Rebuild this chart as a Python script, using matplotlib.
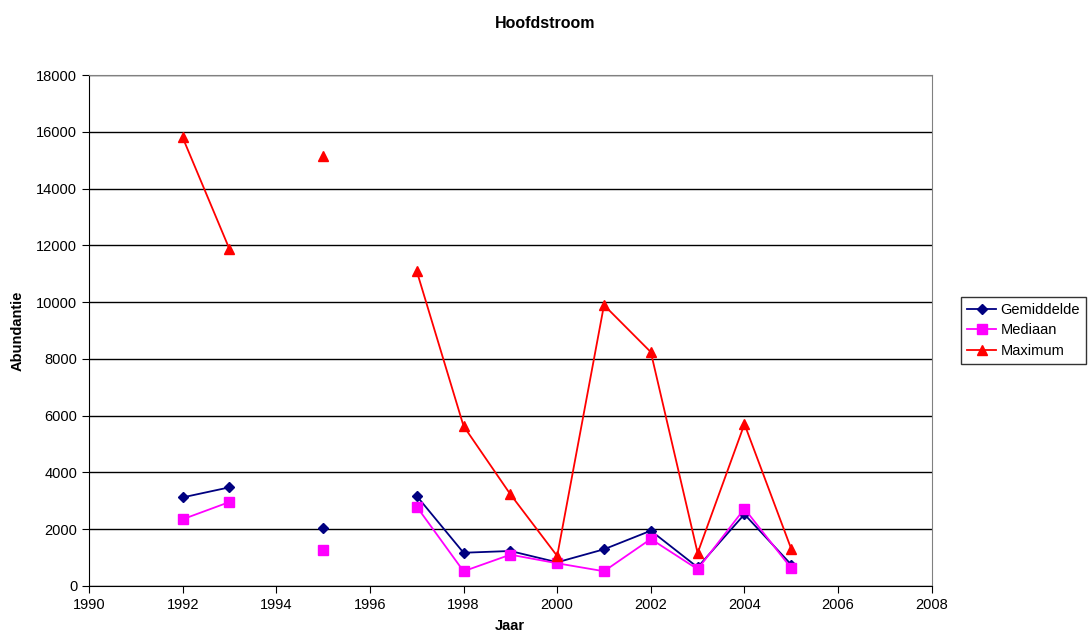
import matplotlib.pyplot as plt
import numpy as np

plt.rcParams["font.family"] = ["Liberation Sans", "DejaVu Sans"]

years = [1992, 1993, 1994, 1995, 1996, 1997, 1998, 1999, 2000, 2001, 2002, 2003, 2004, 2005]
nan = np.nan
gemiddelde = [3120, 3475, nan, 2050, nan, 3169, 1170, 1232, 834, 1292, 1947, 658, 2525, 750]
mediaan = [2350, 2958, nan, 1268, nan, 2793, 518, 1103, 799, 518, 1655, 590, 2722, 623]
maximum = [15800, 11866, nan, 15141, nan, 11092, 5634, 3229, 1056, 9894, 8239, 1160, 5704, 1303]

fig = plt.figure(figsize=(10.91, 6.39), dpi=100)
ax = fig.add_axes([0.0816, 0.083, 0.7724, 0.7996])

ax.plot(years, gemiddelde, color="#000080", marker="D", markersize=5.5, lw=1.3, label="Gemiddelde")
ax.plot(years, mediaan, color="#ff00ff", marker="s", markersize=6.5, lw=1.3, label="Mediaan")
ax.plot(years, maximum, color="#ff0000", marker="^", markersize=7, lw=1.3, label="Maximum")

ax.set_xlim(1990, 2008)
ax.set_ylim(0, 18000)
ax.set_xticks(np.arange(1990, 2009, 2))
ax.set_yticks(np.arange(0, 18001, 2000))
ax.yaxis.grid(True, color="black", lw=1)
ax.set_axisbelow(True)
for side in ["top", "right"]:
    ax.spines[side].set_color("#808080")
ax.tick_params(labelsize=10.5, direction="out", length=5)

ax.set_xlabel("Jaar", fontsize=10.5, fontweight="bold", labelpad=5)
ax.set_ylabel("Abundantie", fontsize=10.5, fontweight="bold", labelpad=8)
fig.suptitle("Hoofdstroom", fontsize=11.5, fontweight="bold", y=0.975)

leg = ax.legend(loc="center left", bbox_to_anchor=(1.035, 0.5), fontsize=10.5,
                frameon=True, fancybox=False, borderpad=0.4, handlelength=2.0,
                labelspacing=0.45, handletextpad=0.3, borderaxespad=0)
leg.get_frame().set_edgecolor("black")
leg.get_frame().set_linewidth(1)

fig.savefig("out.png", dpi=100)
